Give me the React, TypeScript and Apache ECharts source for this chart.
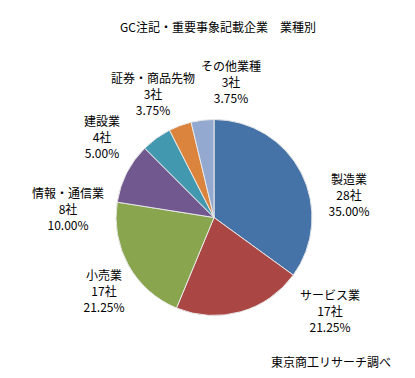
import React, { useEffect, useRef } from "react";
import * as echarts from "echarts";

const categories = ["製造業", "サービス業", "小売業", "情報・通信業", "建設業", "証券・商品先物", "その他業種"];
const counts = [28, 17, 17, 8, 4, 3, 3];
const percents = ["35.00%", "21.25%", "21.25%", "10.00%", "5.00%", "3.75%", "3.75%"];
const titleText = "GC注記・重要事象記載企業\u3000業種別";
const sourceText = "東京商工リサーチ調べ";

const colors = ["#4572A7", "#AA4643", "#89A54E", "#71588F", "#4198AF", "#DB843D", "#93A9CF"];
const labelAnchors: [number, number][] = [
  [349, 194],
  [330, 310],
  [104, 290],
  [68, 208],
  [102, 136],
  [153, 93],
  [231, 81],
];

const FONT = "'Noto Sans CJK JP', sans-serif";

export default function App() {
  const ref = useRef<HTMLDivElement>(null);
  useEffect(() => {
    if (!ref.current) return;
    const chart = echarts.init(ref.current, undefined, { renderer: "svg" });
    chart.setOption({
      animation: false,
      backgroundColor: "#ffffff",
      title: [
        {
          text: titleText,
          left: 213,
          top: 15,
          textAlign: "center",
          textStyle: { fontFamily: FONT, fontSize: 12, fontWeight: "normal", color: "#000" },
        },
        {
          text: sourceText,
          left: 326,
          top: 350,
          textAlign: "center",
          textStyle: { fontFamily: FONT, fontSize: 12, fontWeight: "normal", color: "#000" },
        },
      ],
      series: [
        {
          type: "pie",
          center: [214, 217.5],
          radius: 98,
          startAngle: 90,
          clockwise: true,
          color: colors,
          itemStyle: { borderColor: "#e8e8e8", borderWidth: 1 },
          label: {
            show: true,
            position: "outside",
            fontFamily: FONT,
            fontSize: 12,
            lineHeight: 16,
            color: "#000",
            align: "center",
            overflow: "none",
            formatter: (p: any) => `${p.name}\n${counts[p.dataIndex]}社\n${percents[p.dataIndex]}`,
          },
          labelLine: { show: false },
          labelLayout: (params: any) => {
            const a = labelAnchors[params.dataIndex];
            return { x: a[0], y: a[1], align: "center", verticalAlign: "middle" };
          },
          emphasis: { disabled: true },
          data: categories.map((c, i) => ({ name: c, value: counts[i] })),
        },
      ],
    });
    return () => chart.dispose();
  }, []);
  return (
    <div
      ref={ref}
      style={{ position: "fixed", left: 0, top: 0, width: 415, height: 378, background: "#fff" }}
    />
  );
}
